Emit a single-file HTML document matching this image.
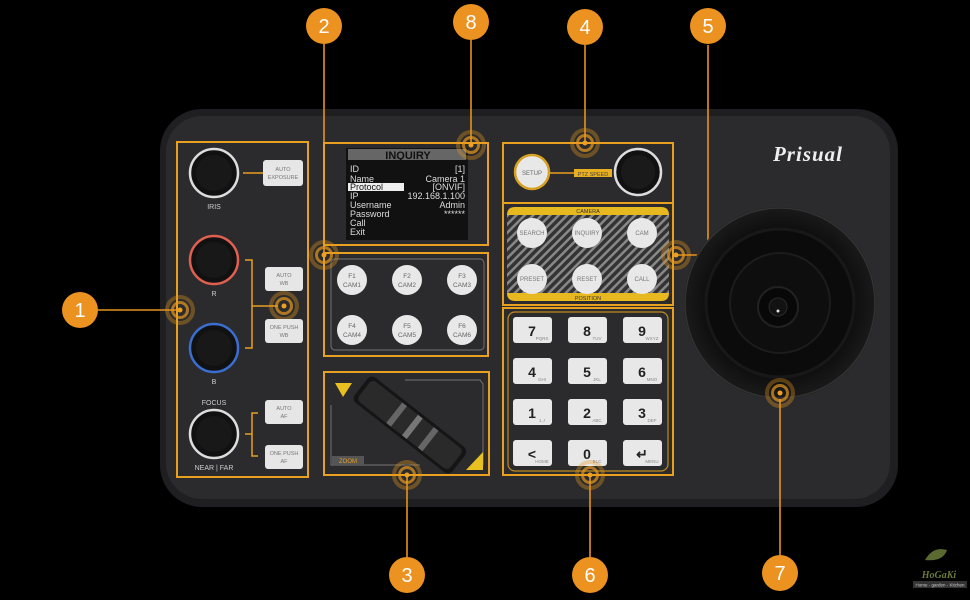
<!DOCTYPE html>
<html><head><meta charset="utf-8"><style>
html,body{margin:0;padding:0;background:#000;}
svg{display:block;font-family:"Liberation Sans",sans-serif;}
</style></head><body>
<svg width="970" height="600" viewBox="0 0 970 600" xmlns="http://www.w3.org/2000/svg">
<defs>
<pattern id="hatch" width="6" height="6" patternUnits="userSpaceOnUse" patternTransform="rotate(45)">
<rect width="6" height="6" fill="#333"/><rect width="2.5" height="6" fill="#888"/></pattern>
<radialGradient id="joy" cx="0.5" cy="0.5" r="0.5">
<stop offset="0" stop-color="#0a0a0a"/><stop offset="0.8" stop-color="#101010"/><stop offset="1" stop-color="#1a1a1a"/></radialGradient>
<g id="tgt"><circle r="13" fill="none" stroke="#e8981e" stroke-opacity="0.35" stroke-width="4"/><circle r="7.5" fill="none" stroke="#e8981e" stroke-opacity="0.7" stroke-width="3"/><circle r="2.5" fill="#f0a020"/></g>
</defs>
<rect width="970" height="600" fill="#000"/>
<!-- body -->
<rect x="160" y="109" width="738" height="398" rx="42" fill="#1f1f21"/>
<rect x="166" y="116" width="724" height="383" rx="36" fill="#2b2b2d"/>
<text x="808" y="161" fill="#eee" font-family="Liberation Serif,serif" font-style="italic" font-weight="bold" font-size="21" text-anchor="middle" letter-spacing="1">Prisual</text>

<!-- connectors -->
<g stroke="#e8921e" stroke-width="1.6" fill="none">
<line x1="98" y1="310" x2="180" y2="310"/>
<line x1="324" y1="44" x2="324" y2="255"/>
<line x1="471" y1="40" x2="471" y2="145"/>
<line x1="585" y1="45" x2="585" y2="143"/>
<polyline points="708,45 708,255 676,255"/>
<line x1="407" y1="477" x2="407" y2="557"/>
<line x1="590" y1="477" x2="590" y2="557"/>
<line x1="780" y1="393" x2="780" y2="555"/>
</g>

<g stroke="#e8a020" stroke-width="2" fill="none">
<rect x="177" y="142" width="131" height="335"/>
<rect x="324" y="143" width="164" height="102"/>
<rect x="324" y="253" width="164" height="103"/>
<rect x="324" y="372" width="165" height="103"/>
<rect x="503" y="143" width="170" height="60"/>
<rect x="503" y="203" width="170" height="102"/>
<rect x="503" y="308" width="170" height="167"/>
</g>
<g>
<circle cx="214" cy="173" r="24" fill="#111" stroke="#ddd" stroke-width="2.5"/><circle cx="214" cy="173" r="18" fill="#181818"/>
<circle cx="214" cy="260" r="24" fill="#111" stroke="#e06050" stroke-width="2.5"/><circle cx="214" cy="260" r="18" fill="#181818"/>
<circle cx="214" cy="348" r="24" fill="#111" stroke="#3a6ed0" stroke-width="2.5"/><circle cx="214" cy="348" r="18" fill="#181818"/>
<circle cx="214" cy="434" r="24" fill="#111" stroke="#ddd" stroke-width="2.5"/><circle cx="214" cy="434" r="18" fill="#181818"/>
</g>
<g fill="#ccc" font-size="7" text-anchor="middle">
<text x="214" y="209">IRIS</text><text x="214" y="296">R</text><text x="214" y="384">B</text>
<text x="214" y="405">FOCUS</text><text x="214" y="470">NEAR | FAR</text>
</g>
<g stroke="#e8a020" stroke-width="1.5" fill="none">
<line x1="243" y1="173" x2="263" y2="173"/>
<polyline points="245,260 252,260 252,348 245,348"/><line x1="252" y1="306" x2="278" y2="306"/>
<polyline points="258,413 252,413 252,456 258,456"/><line x1="245" y1="434" x2="252" y2="434"/>
</g>
<use href="#tgt" x="284" y="306"/>
<g fill="#e6e6e6">
<rect x="263" y="160" width="40" height="26" rx="3"/>
<rect x="265" y="267" width="38" height="24" rx="3"/>
<rect x="265" y="319" width="38" height="24" rx="3"/>
<rect x="265" y="400" width="38" height="24" rx="3"/>
<rect x="265" y="445" width="38" height="24" rx="3"/>
</g>
<g fill="#777" font-size="5.5" text-anchor="middle">
<text x="283" y="171">AUTO</text><text x="283" y="179">EXPOSURE</text>
<text x="284" y="277">AUTO</text><text x="284" y="285">WB</text>
<text x="284" y="329">ONE PUSH</text><text x="284" y="337">WB</text>
<text x="284" y="410">AUTO</text><text x="284" y="418">AF</text>
<text x="284" y="455">ONE PUSH</text><text x="284" y="463">AF</text>
</g>

<!-- screen -->
<rect x="346" y="148" width="122" height="92" fill="#111"/>
<rect x="348" y="149" width="118" height="11" fill="#666"/>
<text x="408" y="159" fill="#111" font-size="11" font-weight="bold" text-anchor="middle">INQUIRY</text>
<rect x="348" y="183" width="56" height="8" fill="#eee"/>
<g fill="#ddd" font-size="9">
<text x="350" y="172">ID</text><text x="350" y="182">Name</text><text x="350" y="190" fill="#111">Protocol</text>
<text x="350" y="199">IP</text><text x="350" y="208">Username</text><text x="350" y="217">Password</text>
<text x="350" y="226">Call</text><text x="350" y="235">Exit</text>
</g>
<g fill="#ddd" font-size="9" text-anchor="end">
<text x="465" y="172">[1]</text><text x="465" y="182">Camera 1</text><text x="465" y="190">[ONVIF]</text>
<text x="465" y="199">192.168.1.100</text><text x="465" y="208">Admin</text><text x="465" y="217">******</text>
</g>

<rect x="331" y="259" width="153" height="91" rx="4" fill="none" stroke="#666" stroke-width="1.2"/>
<g fill="#e8e8e8">
<circle cx="352" cy="280" r="15"/><circle cx="407" cy="280" r="15"/><circle cx="462" cy="280" r="15"/>
<circle cx="352" cy="330" r="15"/><circle cx="407" cy="330" r="15"/><circle cx="462" cy="330" r="15"/>
</g>
<g fill="#666" font-size="6.5" text-anchor="middle">
<text x="352" y="278">F1</text><text x="352" y="287">CAM1</text>
<text x="407" y="278">F2</text><text x="407" y="287">CAM2</text>
<text x="462" y="278">F3</text><text x="462" y="287">CAM3</text>
<text x="352" y="328">F4</text><text x="352" y="337">CAM4</text>
<text x="407" y="328">F5</text><text x="407" y="337">CAM5</text>
<text x="462" y="328">F6</text><text x="462" y="337">CAM6</text>
</g>

<!-- zoom -->
<polyline points="405,380 480,380 483,384 483,465" fill="none" stroke="#666" stroke-width="1.2"/>
<polyline points="331,405 331,465 420,465" fill="none" stroke="#666" stroke-width="1.2"/>
<rect x="332" y="456" width="32" height="9" fill="#555"/>
<text x="348" y="463" fill="#e8a020" font-size="6" text-anchor="middle">ZOOM</text>
<polygon points="335,383 352,383 343,397" fill="#e8c020"/>
<polygon points="466,470 483,470 483,452" fill="#e8c020"/>
<g transform="translate(410,425) rotate(38)">
<rect x="-62" y="-16" width="124" height="32" rx="6" fill="#151515"/>
<rect x="-58" y="-13" width="116" height="26" rx="5" fill="#2a2a2a"/>
<rect x="-20" y="-13" width="6" height="26" fill="#666"/><rect x="0" y="-13" width="6" height="26" fill="#777"/><rect x="20" y="-13" width="6" height="26" fill="#666"/>
</g>

<!-- setup -->
<circle cx="532" cy="172" r="17" fill="#e8e8e8" stroke="#d8a020" stroke-width="2.5"/>
<text x="532" y="175" fill="#666" font-size="6" text-anchor="middle">SETUP</text>
<line x1="549" y1="173" x2="574" y2="173" stroke="#e8a020" stroke-width="1.5"/>
<rect x="574" y="169" width="38" height="8" fill="#e8b020"/>
<text x="593" y="176" fill="#444" font-size="5.5" text-anchor="middle">PTZ SPEED</text>
<circle cx="638" cy="172" r="23" fill="#111" stroke="#ddd" stroke-width="2.5"/><circle cx="638" cy="172" r="17" fill="#1a1a1a"/>

<!-- camera -->
<rect x="507" y="207" width="162" height="94" rx="8" fill="url(#hatch)"/>
<path d="M507 215 q0-8 8-8 h146 q8 0 8 8 z" fill="#e8b820"/>
<path d="M507 293 h162 q0 8 -8 8 h-146 q-8 0 -8 -8 z" fill="#e8b820"/>
<text x="588" y="213" fill="#333" font-size="5.5" text-anchor="middle">CAMERA</text>
<text x="588" y="300" fill="#333" font-size="5.5" text-anchor="middle">POSITION</text>
<g fill="#e8e8e8">
<circle cx="532" cy="233" r="15"/><circle cx="587" cy="233" r="15"/><circle cx="642" cy="233" r="15"/>
<circle cx="532" cy="279" r="15"/><circle cx="587" cy="279" r="15"/><circle cx="642" cy="279" r="15"/>
</g>
<g fill="#777" font-size="6" text-anchor="middle">
<text x="532" y="235">SEARCH</text><text x="587" y="235">INQUIRY</text><text x="642" y="235">CAM</text>
<text x="532" y="281">PRESET</text><text x="587" y="281">RESET</text><text x="642" y="281">CALL</text>
</g>

<!-- keypad -->
<rect x="508" y="312" width="160" height="159" rx="7" fill="none" stroke="#c08a20" stroke-width="1.2"/>
<g fill="#e8e8e8">
<rect x="513" y="317" width="39" height="26" rx="3"/><rect x="568" y="317" width="39" height="26" rx="3"/><rect x="623" y="317" width="39" height="26" rx="3"/>
<rect x="513" y="358" width="39" height="26" rx="3"/><rect x="568" y="358" width="39" height="26" rx="3"/><rect x="623" y="358" width="39" height="26" rx="3"/>
<rect x="513" y="399" width="39" height="26" rx="3"/><rect x="568" y="399" width="39" height="26" rx="3"/><rect x="623" y="399" width="39" height="26" rx="3"/>
<rect x="513" y="440" width="39" height="26" rx="3"/><rect x="568" y="440" width="39" height="26" rx="3"/><rect x="623" y="440" width="39" height="26" rx="3"/>
</g>
<g fill="#222" font-size="14" font-weight="bold" text-anchor="middle">
<text x="532" y="336">7</text><text x="587" y="336">8</text><text x="642" y="336">9</text>
<text x="532" y="377">4</text><text x="587" y="377">5</text><text x="642" y="377">6</text>
<text x="532" y="418">1</text><text x="587" y="418">2</text><text x="642" y="418">3</text>
<text x="532" y="459">&lt;</text><text x="587" y="459">0</text><text x="642" y="459">↵</text>
</g>
<g fill="#888" font-size="4.5" text-anchor="middle">
<text x="542" y="340">PQRS</text><text x="597" y="340">TUV</text><text x="652" y="340">WXYZ</text>
<text x="542" y="381">GHI</text><text x="597" y="381">JKL</text><text x="652" y="381">MNO</text>
<text x="542" y="422">1.,!</text><text x="597" y="422">ABC</text><text x="652" y="422">DEF</text>
<text x="542" y="463">HOME</text><text x="597" y="463">BLC</text><text x="652" y="463">MENU</text>
</g>

<!-- joystick -->
<circle cx="780" cy="303" r="96" fill="url(#joy)"/>
<circle cx="780" cy="303" r="95" fill="none" stroke="#333" stroke-width="1.5"/>
<circle cx="780" cy="303" r="74" fill="#0b0b0b" stroke="#181818" stroke-width="3"/>
<circle cx="780" cy="303" r="50" fill="#0e0e0e" stroke="#1c1c1c" stroke-width="2"/>
<circle cx="778" cy="307" r="20" fill="#080808" stroke="#222" stroke-width="2"/>
<circle cx="778" cy="307" r="9" fill="#121212" stroke="#2a2a2a"/>
<circle cx="778" cy="311" r="1.5" fill="#ddd"/>

<use href="#tgt" x="180" y="310"/>
<use href="#tgt" x="324" y="255"/>
<use href="#tgt" x="471" y="145"/>
<use href="#tgt" x="585" y="143"/>
<use href="#tgt" x="676" y="255"/>
<use href="#tgt" x="407" y="475"/>
<use href="#tgt" x="590" y="475"/>
<use href="#tgt" x="780" y="393"/>

<g fill="#ec9220">
<circle cx="80" cy="310" r="18"/><circle cx="324" cy="26" r="18"/><circle cx="471" cy="22" r="18"/>
<circle cx="585" cy="27" r="18"/><circle cx="708" cy="26" r="18"/><circle cx="407" cy="575" r="18"/>
<circle cx="590" cy="575" r="18"/><circle cx="780" cy="573" r="18"/>
</g>
<g fill="#fff" font-size="20" text-anchor="middle">
<text x="80" y="317">1</text><text x="324" y="33">2</text><text x="471" y="29">8</text>
<text x="585" y="34">4</text><text x="708" y="33">5</text><text x="407" y="582">3</text>
<text x="590" y="582">6</text><text x="780" y="580">7</text>
</g>

<path d="M925 560 q8 -14 22 -10 q-4 12 -22 10z" fill="#5a6a30"/>
<text x="939" y="578" fill="#6a7a3a" font-size="10" font-style="italic" font-weight="bold" text-anchor="middle" font-family="Liberation Serif,serif">HoGaKi</text>
<rect x="913" y="581" width="54" height="7" fill="#333"/>
<text x="940" y="586.5" fill="#ccc" font-size="4.5" text-anchor="middle">Home - garden - Kitchen</text>
</svg>
</body></html>
